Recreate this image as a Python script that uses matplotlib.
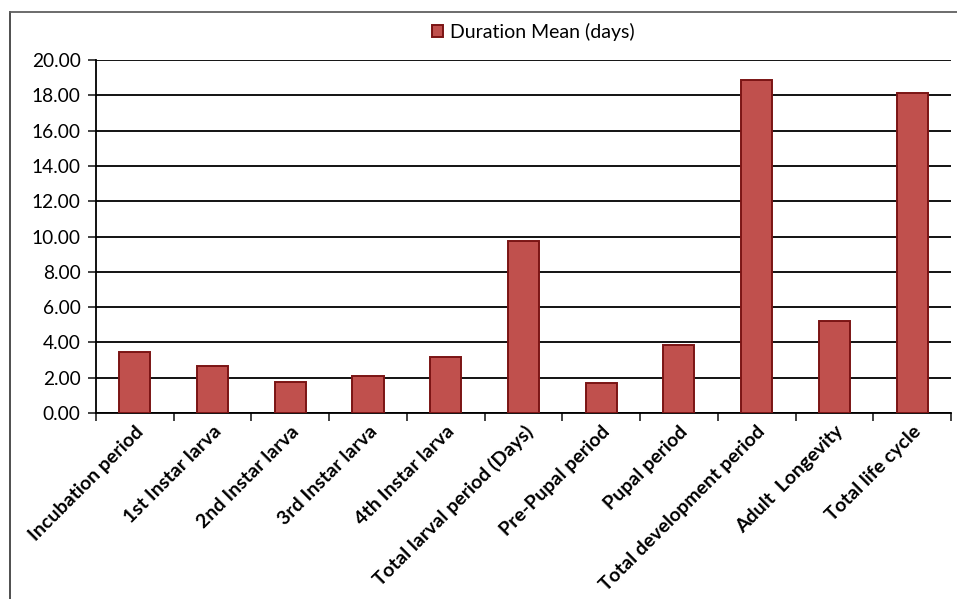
import matplotlib
matplotlib.use("Agg")
import matplotlib.pyplot as plt
import numpy as np
from matplotlib.lines import Line2D
from matplotlib.ticker import FixedLocator, FormatStrFormatter

categories = [
    "Incubation period", "1st Instar larva", "2nd Instar larva", "3rd Instar larva",
    "4th Instar larva", "Total larval period (Days)", "Pre-Pupal period",
    "Pupal period", "Total development period", "Adult  Longevity", "Total life cycle",
]
duration_mean = [3.47, 2.69, 1.75, 2.07, 3.18, 9.77, 1.70, 3.85, 18.85, 5.24, 18.13]
series_label = "Duration Mean (days)"
y_ticks = [0, 2, 4, 6, 8, 10, 12, 14, 16, 18, 20]

plt.rcParams["font.family"] = ["Lato", "DejaVu Sans"]

fig = plt.figure(figsize=(9.57, 5.99), dpi=100)
ax = fig.add_axes([0.1003, 0.3105, 0.8934, 0.5893])

x = np.arange(len(categories))
ax.bar(x, duration_mean, width=0.4, color="#C0504D", edgecolor="#7B1414",
       linewidth=1.4, zorder=3, label=series_label)

ax.set_xlim(-0.5, len(categories) - 0.5)
ax.set_ylim(0, 20)
ax.set_yticks(y_ticks)
ax.yaxis.set_major_formatter(FormatStrFormatter("%.2f"))
ax.grid(axis="y", color="black", linewidth=1.3, zorder=1)
ax.set_axisbelow(True)

ax.set_xticks(x)
ax.set_xticklabels(categories, rotation=45, ha="right", rotation_mode="anchor",
                   fontsize=14, fontweight="bold")
ax.xaxis.set_minor_locator(FixedLocator(np.arange(-0.5, len(categories), 1.0)))
ax.tick_params(axis="x", which="major", length=0, pad=7)
ax.tick_params(axis="x", which="minor", length=6, width=1.3, color="#333333", direction="out")
ax.tick_params(axis="y", length=6, width=1.3, color="#333333", labelsize=13.8, pad=5)

for side in ("top", "right"):
    ax.spines[side].set_visible(False)
for side in ("left", "bottom"):
    ax.spines[side].set_color("black")
    ax.spines[side].set_linewidth(1.3)

leg = fig.legend(loc="center", bbox_to_anchor=(0.557, 0.947), frameon=False,
                 fontsize=14, handlelength=0.6, handleheight=0.6, handletextpad=0.35)

# Chart frame
fig.add_artist(Line2D([9.5 / 957, 9.5 / 957], [0, 1 - 12 / 599], transform=fig.transFigure,
                      color="#404040", linewidth=1.3))
fig.add_artist(Line2D([9.5 / 957, 1], [1 - 12 / 599, 1 - 12 / 599], transform=fig.transFigure,
                      color="#606060", linewidth=1.3))

fig.savefig("out.png", dpi=100)
